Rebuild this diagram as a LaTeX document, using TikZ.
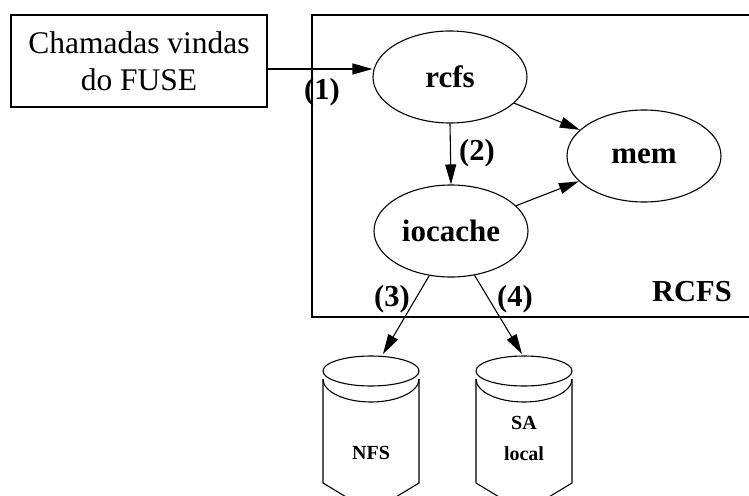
\documentclass[tikz,border=0pt]{standalone}
\usepackage{fontspec}
\setmainfont{Liberation Serif}
\usetikzlibrary{shapes.geometric,arrows.meta}

\tikzset{
  every picture/.style={line width=1.1pt},
  arr/.style={-{Triangle[length=20pt,width=11pt]}},
  oval/.style={draw, ellipse, minimum width=154pt, minimum height=92pt, inner sep=0pt,
               font=\fontsize{31}{36}\selectfont\bfseries},
  lbl/.style={font=\fontsize{30.5}{36}\selectfont\bfseries, inner sep=0pt},
  disklbl/.style={font=\fontsize{20}{24}\selectfont\bfseries, inner sep=0pt},
  disk/.pic={
    \draw (0,0) ellipse [x radius=48, y radius=15];
    \draw (-48,8) -- (-48,112) -- (0,141);
    \draw (48,8) -- (48,112) -- (0,141);
    \draw (-48,8) arc [start angle=180, end angle=0, x radius=48, y radius=23];
    \coordinate (-top) at (0,-17);
  }
}

\begin{document}
\begin{tikzpicture}[x=1pt, y=-1pt]
  \useasboundingbox (0,0) rectangle (749,495);
  \clip (0,0) rectangle (749,495);

  % outer RCFS container
  \draw (312,15) rectangle (770,317);
  \node[lbl] (rcfslbl) at (692,292) {RCFS};

  % external caller
  \node[draw, minimum width=256pt, minimum height=92pt, inner sep=0pt, align=center,
        font=\fontsize{31.5}{37}\selectfont] (fuse) at (139,61) {Chamadas vindas\\do FUSE};

  % internal modules
  \node[oval] (rcfs) at (450,77) {rcfs};
  \node[oval] (iocache) at (451,231) {iocache};
  \node[oval] (mem) at (644,156) {mem};

  % storage back ends
  \pic (nfs) at (371,371) {disk};
  \pic (sa) at (524,371) {disk};
  \node[disklbl] (nfslbl) at (371,453) {NFS};
  \node[disklbl, align=center] (salbl) at (524,438) {SA\\[7pt]local};

  % connectors
  \draw[arr] ([yshift=-8pt]fuse.east) -- ([yshift=-8pt]fuse.east -| rcfs.west);
  \draw[arr] (rcfs.south) -- (iocache.north);
  \draw[arr] (rcfs) -- (mem);
  \draw[arr] (iocache) -- (mem);
  \draw[arr] (iocache.-116) -- ([xshift=12pt]nfs-top);
  \draw[arr] (iocache.-62) -- ([xshift=-2pt]sa-top);

  % step labels
  \node[lbl] (l1) at (322,92) {(1)};
  \node[lbl] (l2) at (477,153) {(2)};
  \node[lbl] (l3) at (392,299) {(3)};
  \node[lbl] (l4) at (515,299) {(4)};
\end{tikzpicture}
\end{document}
